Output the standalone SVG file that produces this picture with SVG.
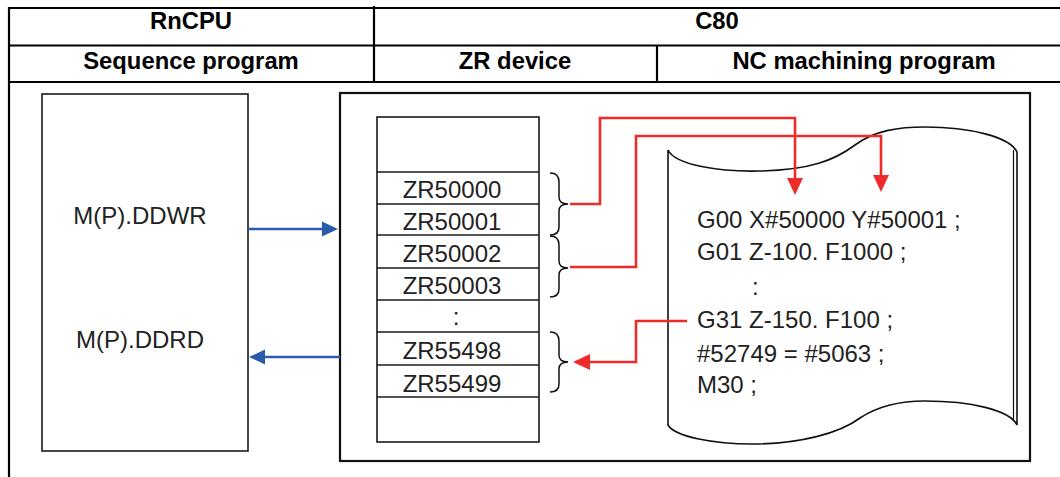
<svg xmlns="http://www.w3.org/2000/svg" width="1060" height="477" viewBox="0 0 1060 477">
<defs>
<style>
.tl{stroke:#000;stroke-width:2.2;fill:none}
.box{stroke:#1a1a1a;stroke-width:1.6;fill:#fff}
.hd{font-family:"Liberation Sans",Arial,sans-serif;font-size:23.8px;font-weight:bold;fill:#000;text-anchor:middle}
.tx{font-family:"Liberation Sans",Arial,sans-serif;font-size:24px;fill:#222}
.mid{text-anchor:middle}
.red{stroke:#ee2b2b;stroke-width:2.6;fill:none}
.blue{stroke:#2b5cab;stroke-width:2.6;fill:none}
.br{stroke:#111;stroke-width:1.5;fill:none}
</style>
</defs>
<rect width="1060" height="477" fill="#fff"/>
<g id="table">
<line class="tl" x1="9" y1="8" x2="1060" y2="8"/>
<line class="tl" x1="9" y1="45.5" x2="1060" y2="45.5"/>
<line class="tl" x1="9" y1="82" x2="1060" y2="82"/>
<line class="tl" x1="9" y1="7" x2="9" y2="477"/>
<line class="tl" x1="374" y1="6" x2="374" y2="82"/>
<line class="tl" x1="657" y1="45.5" x2="657" y2="82"/>
<text class="hd" x="191" y="29">RnCPU</text>
<text class="hd" x="717" y="29">C80</text>
<text class="hd" x="191" y="69">Sequence program</text>
<text class="hd" x="515" y="69">ZR device</text>
<text class="hd" x="864" y="69">NC machining program</text>
</g>
<g id="seq-box">
<rect class="box" x="42" y="94" width="206" height="357"/>
<text class="tx mid" x="140" y="224">M(P).DDWR</text>
<text class="tx mid" x="140" y="348">M(P).DDRD</text>
</g>
<g id="c80-box">
<rect x="340" y="93" width="690" height="368" fill="none" stroke="#111" stroke-width="2.2"/>
</g>
<g id="zr-device">
<rect class="box" x="377" y="117" width="162" height="325"/>
<g stroke="#1a1a1a" stroke-width="1.5">
<line x1="377" y1="172" x2="539" y2="172"/>
<line x1="377" y1="204" x2="539" y2="204"/>
<line x1="377" y1="235" x2="539" y2="235"/>
<line x1="377" y1="268" x2="539" y2="268"/>
<line x1="377" y1="300" x2="539" y2="300"/>
<line x1="377" y1="332" x2="539" y2="332"/>
<line x1="377" y1="365" x2="539" y2="365"/>
<line x1="377" y1="397" x2="539" y2="397"/>
</g>
<text class="tx mid" x="452" y="198">ZR50000</text>
<text class="tx mid" x="452" y="230">ZR50001</text>
<text class="tx mid" x="452" y="262">ZR50002</text>
<text class="tx mid" x="452" y="294">ZR50003</text>
<text class="tx mid" x="456" y="325">:</text>
<text class="tx mid" x="452" y="359">ZR55498</text>
<text class="tx mid" x="452" y="392">ZR55499</text>
</g>
<g id="brackets">
<path class="br" d="M550,173 Q559,173 559,182 L559,197 Q559,204 568,204 Q559,204 559,211 L559,227 Q559,235 550,235"/>
<path class="br" d="M550,236 Q559,236 559,245 L559,261 Q559,268 568,268 Q559,268 559,275 L559,289 Q559,297 550,297"/>
<path class="br" d="M550,332 Q559,332 559,341 L559,355 Q559,362 568,362 Q559,362 559,369 L559,384 Q559,392 550,392"/>
</g>
<g id="nc-program">
<path d="M668,150 C675,165 720,172 760,171 C810,170 835,160 855,145 C875,130 900,127 925,127 C970,127 1010,137 1017,152 L1017,425 C1010,410 970,401 925,401 C895,401 875,408 860,418 C840,433 800,444 752,444 C715,444 675,437 668,425 Z" fill="#fff" stroke="#111" stroke-width="1.6"/>
<line x1="1013.5" y1="150" x2="1013.5" y2="421" stroke="#111" stroke-width="1.2"/>
<text class="tx" x="697" y="228">G00 X#50000 Y#50001 ;</text>
<text class="tx" x="697" y="260">G01 Z-100. F1000 ;</text>
<text class="tx" x="752" y="295">:</text>
<text class="tx" x="697" y="328">G31 Z-150. F100 ;</text>
<text class="tx" x="697" y="362">#52749 = #5063 ;</text>
<text class="tx" x="697" y="393">M30 ;</text>
</g>
<g id="connectors">
<line class="blue" x1="248" y1="229" x2="324" y2="229"/>
<path d="M338,229 L322,221.5 L322,236.5 Z" fill="#2b5cab"/>
<line class="blue" x1="340" y1="357" x2="264" y2="357"/>
<path d="M249,357 L265,349.5 L265,364.5 Z" fill="#2b5cab"/>
<path class="red" d="M570,204 L600,204 L600,118 L795,118 L795,181"/>
<path d="M795,195 L787,178 L803,178 Z" fill="#ee2b2b"/>
<path class="red" d="M570,267 L636,267 L636,136 L881,136 L881,178"/>
<path d="M881,192 L873,175 L889,175 Z" fill="#ee2b2b"/>
<path class="red" d="M687,321 L636,321 L636,362 L588,362"/>
<path d="M573,362 L590,354 L590,370 Z" fill="#ee2b2b"/>
</g>
</svg>
